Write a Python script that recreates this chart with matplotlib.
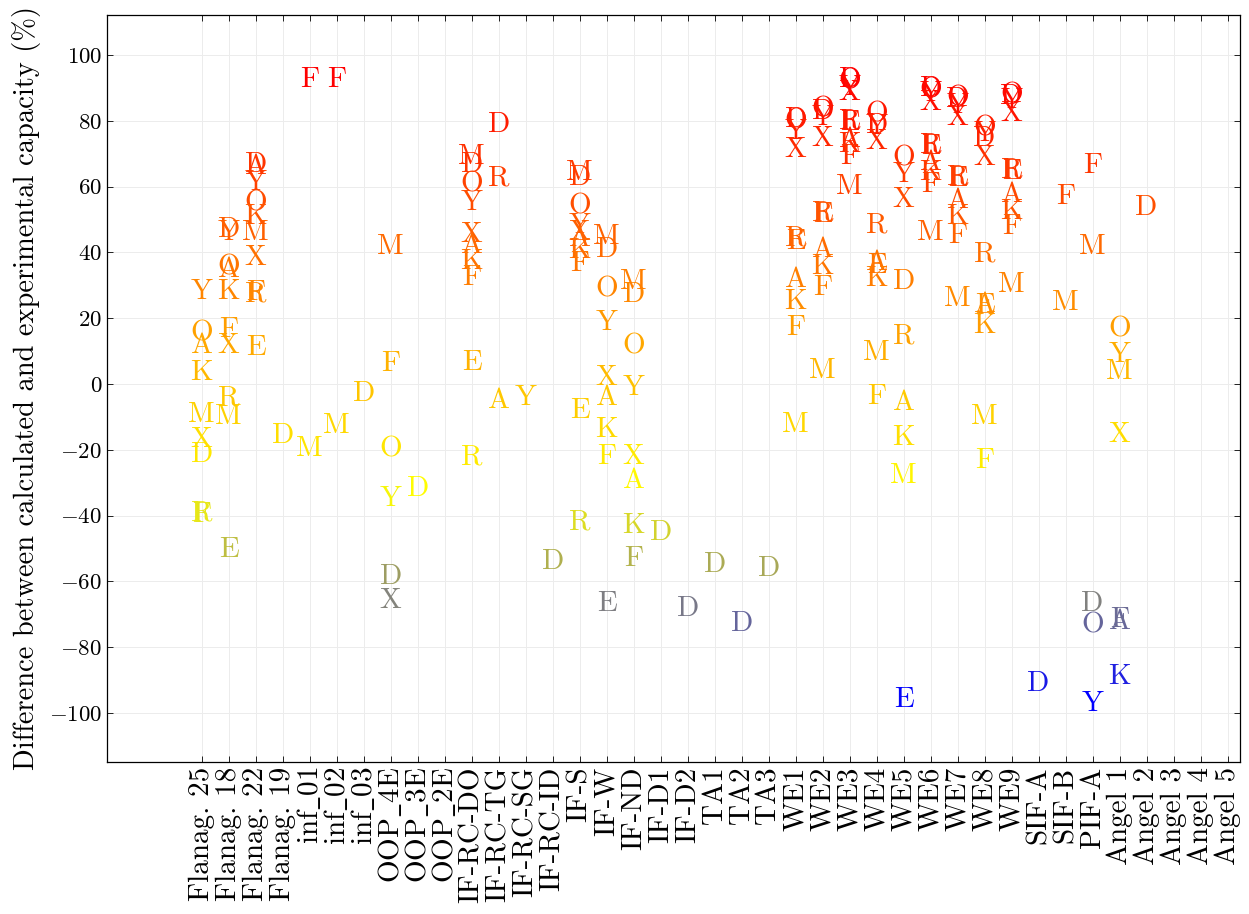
import numpy as np
import matplotlib
matplotlib.use("Agg")
import matplotlib.pyplot as plt
from matplotlib.colors import LinearSegmentedColormap, Normalize

plt.rcParams['font.family'] = 'cmr10'
plt.rcParams['mathtext.fontset'] = 'cm'
plt.rcParams['axes.formatter.use_mathtext'] = True

categories = ["Flanag. 25", "Flanag. 18", "Flanag. 22", "Flanag. 19",
              "inf_01", "inf_02", "inf_03", "OOP_4E", "OOP_3E", "OOP_2E",
              "IF-RC-DO", "IF-RC-TG", "IF-RC-SG", "IF-RC-ID", "IF-S", "IF-W",
              "IF-ND", "IF-D1", "IF-D2", "TA1", "TA2", "TA3",
              "WE1", "WE2", "WE3", "WE4", "WE5", "WE6", "WE7", "WE8", "WE9",
              "SIF-A", "SIF-B", "PIF-A",
              "Angel 1", "Angel 2", "Angel 3", "Angel 4", "Angel 5"]

# difference (%) per method letter, keyed by test case
D = {"Flanag. 25": -20.6, "Flanag. 18": 47.8, "Flanag. 22": 67.6, "Flanag. 19": -14.9,
     "inf_03": -2.2, "OOP_4E": -57.8, "OOP_3E": -30.8, "IF-RC-DO": 67.5,
     "IF-RC-TG": 79.7, "IF-RC-ID": -53.0, "IF-S": 63.5, "IF-W": 41.7, "IF-ND": 28.1,
     "IF-D1": -44.2, "IF-D2": -67.5, "TA1": -54.1, "TA2": -72.1, "TA3": -55.2,
     "WE1": 81.2, "WE2": 83.7, "WE3": 93.4, "WE4": 79.5, "WE5": 32.1, "WE6": 90.8,
     "WE7": 87.3, "WE8": 75.6, "WE9": 88.3, "SIF-A": -90.1, "PIF-A": -65.8,
     "Angel 2": 54.5}
M = {"Flanag. 25": -8.4, "Flanag. 18": -8.9, "Flanag. 22": 46.8, "inf_01": -18.9,
     "inf_02": -11.9, "OOP_4E": 42.7, "IF-RC-DO": 70.1, "IF-S": 65.0, "IF-W": 45.8,
     "IF-ND": 32.1, "WE1": -11.4, "WE2": 4.8, "WE3": 61.0, "WE4": 10.4, "WE5": -27.1,
     "WE6": 46.8, "WE7": 26.8, "WE8": -8.9, "WE9": 31.1, "SIF-B": 25.5,
     "PIF-A": 42.6, "Angel 1": 4.7}
O = {"Flanag. 25": 16.2, "Flanag. 18": 36.5, "Flanag. 22": 55.9, "OOP_4E": -18.9,
     "IF-RC-DO": 61.5, "IF-S": 54.9, "IF-W": 29.6, "IF-ND": 12.4, "WE1": 80.7,
     "WE2": 84.3, "WE3": 92.9, "WE4": 83.0, "WE5": 69.6, "WE6": 90.3, "WE7": 87.8,
     "WE8": 78.7, "WE9": 88.8, "PIF-A": -72.4, "Angel 1": 17.4}
Y = {"Flanag. 25": 28.9, "Flanag. 18": 46.8, "Flanag. 22": 62.0, "OOP_4E": -34.0,
     "IF-RC-DO": 55.9, "IF-RC-SG": -3.2, "IF-S": 49.0, "IF-W": 19.5, "IF-ND": -0.2,
     "WE1": 77.7, "WE2": 81.7, "WE3": 91.0, "WE4": 79.0, "WE5": 64.6, "WE6": 89.0,
     "WE7": 85.5, "WE8": 77.0, "WE9": 87.0, "PIF-A": -96.2, "Angel 1": 9.8}
X = {"Flanag. 25": -16.0, "Flanag. 18": 12.4, "Flanag. 22": 39.2, "OOP_4E": -64.9,
     "IF-RC-DO": 46.3, "IF-S": 47.0, "IF-W": 2.8, "IF-ND": -21.2, "WE1": 72.1,
     "WE2": 75.6, "WE3": 89.3, "WE4": 74.5, "WE5": 56.9, "WE6": 86.3, "WE7": 81.7,
     "WE8": 69.6, "WE9": 83.2, "Angel 1": -14.4}
A = {"Flanag. 25": 12.4, "Flanag. 18": 35.7, "Flanag. 22": 67.1, "IF-RC-DO": 42.8,
     "IF-RC-TG": -4.3, "IF-S": 45.0, "IF-W": -3.2, "IF-ND": -28.5, "WE1": 32.6,
     "WE2": 41.7, "WE3": 75.1, "WE4": 37.7, "WE5": -4.9, "WE6": 68.1, "WE7": 56.5,
     "WE8": 25.0, "WE9": 58.4, "Angel 1": -71.3}
K = {"Flanag. 25": 4.3, "Flanag. 18": 28.9, "Flanag. 22": 51.9, "IF-RC-DO": 38.2,
     "IF-S": 41.5, "IF-W": -13.1, "IF-ND": -42.2, "WE1": 26.0, "WE2": 36.7,
     "WE3": 73.6, "WE4": 32.8, "WE5": -15.5, "WE6": 65.0, "WE7": 51.9, "WE8": 18.5,
     "WE9": 53.4, "Angel 1": -88.1}
F = {"Flanag. 25": -38.8, "Flanag. 18": 17.4, "Flanag. 22": 28.5, "inf_01": 93.4,
     "inf_02": 93.4, "OOP_4E": 7.0, "IF-RC-DO": 33.1, "IF-S": 37.5, "IF-W": -21.2,
     "IF-ND": -52.1, "WE1": 18.0, "WE2": 30.1, "WE3": 70.1, "WE4": -3.0, "WE6": 61.5,
     "WE7": 46.0, "WE8": -22.5, "WE9": 48.8, "SIF-B": 57.8, "PIF-A": 67.4,
     "Angel 1": -70.8}
R = {"Flanag. 25": -38.3, "Flanag. 18": -3.3, "Flanag. 22": 28.1, "IF-RC-DO": -21.5,
     "IF-RC-TG": 63.5, "IF-S": -41.2, "WE1": 45.3, "WE2": 52.9, "WE3": 80.7,
     "WE4": 49.3, "WE5": 15.4, "WE6": 73.6, "WE7": 63.7, "WE8": 40.2, "WE9": 66.0}
E = {"Flanag. 18": -49.4, "Flanag. 22": 11.9, "IF-RC-DO": 7.4, "IF-S": -7.3,
     "IF-W": -66.0, "WE1": 44.3, "WE2": 52.4, "WE3": 80.2, "WE4": 37.0,
     "WE5": -95.2, "WE6": 73.1, "WE7": 63.2, "WE8": 24.6, "WE9": 65.5}

series = {"D": D, "M": M, "O": O, "Y": Y, "X": X, "A": A, "K": K, "F": F, "R": R, "E": E}

# colour scale blue -> gray -> yellow -> orange -> red over the data range
all_vals = [v for s in series.values() for v in s.values()]
vmin, vmax = min(all_vals), max(all_vals)
def pos(v):
    return (v - vmin) / (vmax - vmin)
cmap = LinearSegmentedColormap.from_list(
    "meta", [(0.0, "blue"), (pos(-66), "gray"), (pos(-32), "yellow"),
             (pos(14), "orange"), (1.0, "red")])
norm = Normalize(vmin, vmax)

fig = plt.figure(figsize=(12.49, 9.14), dpi=100)
ax = fig.add_axes([0.0857, 0.1663, 0.9071, 0.8173])

for letter, vals in series.items():
    for cat, v in vals.items():
        ax.text(categories.index(cat), v, letter, ha='center', va='center_baseline',
                fontsize=21, color=cmap(norm(v)))

ax.set_xlim(-3.507, 38.46)
ax.set_ylim(-114.9, 112.2)
ax.set_xticks(range(len(categories)))
# cmr10 has no underscore glyph, so draw it through mathtext
ax.set_xticklabels([c.replace("_", r"$\_$") for c in categories], rotation=90, fontsize=21)
ax.set_yticks(np.arange(-100, 101, 20))
ax.tick_params(axis='y', labelsize=16.5)
ax.tick_params(direction='in', top=True, right=True, length=4, width=0.6)
ax.grid(True, color='#ececec', linewidth=0.7)
ax.set_axisbelow(True)
for sp in ax.spines.values():
    sp.set_linewidth(0.9)
ax.set_ylabel("Difference between calculated and experimental capacity (%)", fontsize=20.5,
              labelpad=6)

fig.savefig("out.png", dpi=100)
